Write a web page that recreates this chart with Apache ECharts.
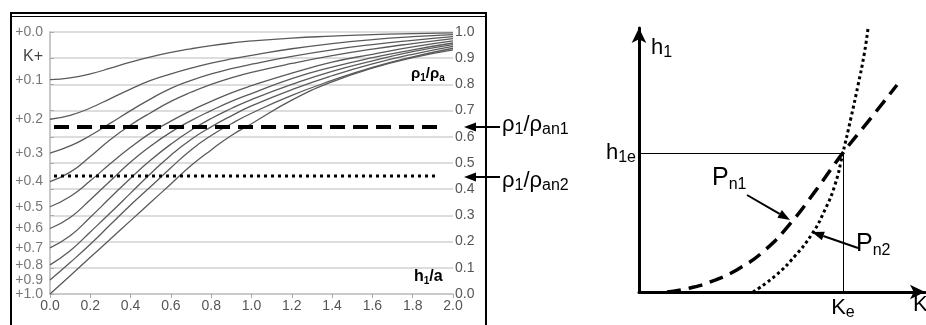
<!DOCTYPE html>
<html>
<head>
<meta charset="utf-8">
<script src="https://cdn.jsdelivr.net/npm/echarts@6/dist/echarts.min.js"></script>
<style>
html, body { margin: 0; padding: 0; background: #fff; }
#chart { width: 926px; height: 325px; }
</style>
</head>
<body>
<div id="chart"></div>
<script>
// h1/a sample points shared by all curves
var hValues = [0, 0.1, 0.2, 0.3, 0.4, 0.5, 0.6, 0.7, 0.8, 0.9, 1.0, 1.2, 1.4, 1.6, 1.8, 2.0];

// rho1/rhoa for each K curve
var curveK01 = [0.818, 0.825, 0.840, 0.862, 0.885, 0.905, 0.922, 0.936, 0.948, 0.958, 0.966, 0.977, 0.984, 0.990, 0.994, 0.997];
var curveK02 = [0.667, 0.682, 0.710, 0.746, 0.782, 0.815, 0.840, 0.862, 0.881, 0.897, 0.911, 0.936, 0.956, 0.971, 0.982, 0.990];
var curveK03 = [0.538, 0.565, 0.605, 0.652, 0.700, 0.745, 0.785, 0.815, 0.840, 0.860, 0.877, 0.907, 0.932, 0.952, 0.968, 0.982];
var curveK04 = [0.429, 0.465, 0.525, 0.590, 0.645, 0.692, 0.735, 0.770, 0.800, 0.825, 0.846, 0.880, 0.910, 0.935, 0.956, 0.975];
var curveK05 = [0.333, 0.372, 0.432, 0.498, 0.560, 0.615, 0.660, 0.700, 0.735, 0.768, 0.795, 0.843, 0.885, 0.915, 0.943, 0.966];
var curveK06 = [0.250, 0.292, 0.360, 0.432, 0.504, 0.565, 0.618, 0.662, 0.700, 0.735, 0.765, 0.822, 0.866, 0.902, 0.932, 0.958];
var curveK07 = [0.176, 0.222, 0.293, 0.368, 0.442, 0.511, 0.572, 0.625, 0.670, 0.708, 0.742, 0.800, 0.850, 0.890, 0.925, 0.952];
var curveK08 = [0.111, 0.165, 0.237, 0.310, 0.385, 0.460, 0.530, 0.590, 0.638, 0.680, 0.718, 0.780, 0.833, 0.878, 0.915, 0.945];
var curveK09 = [0.053, 0.120, 0.190, 0.265, 0.340, 0.410, 0.482, 0.550, 0.605, 0.650, 0.690, 0.758, 0.815, 0.865, 0.905, 0.938];
var curveK10 = [0.000, 0.070, 0.140, 0.210, 0.280, 0.350, 0.420, 0.490, 0.550, 0.605, 0.650, 0.740, 0.810, 0.862, 0.902, 0.932];
var curves = [curveK01, curveK02, curveK03, curveK04, curveK05, curveK06, curveK07, curveK08, curveK09, curveK10];

// left K+ scale: label text and its place on the rho1/rhoa axis
var kTickLabels = ['+0.0', 'K+', '+0.1', '+0.2', '+0.3', '+0.4', '+0.5', '+0.6', '+0.7', '+0.8', '+0.9', '+1.0'];
var kTickPos = [1.0, 0.905, 0.818, 0.667, 0.538, 0.429, 0.333, 0.25, 0.176, 0.111, 0.053, 0.0];

// horizontal reference levels
var rhoAn1 = 0.637;
var rhoAn2 = 0.45;
var refStart = 0.02;
var refEnd = 1.93;

// right sketch (arbitrary units 0..100)
var pn1X = [9.8, 17.8, 26.6, 35.3, 44.1, 52.8, 61.9, 71.3, 80.8, 90.2];
var pn1Y = [0.0, 1.5, 4.5, 9.1, 15.9, 25.8, 38.6, 52.7, 65.5, 78.4];
var pn2X = [39.9, 47.6, 54.5, 60.5, 65.0, 68.5, 71.3, 74.1, 76.6, 78.7, 80.1];
var pn2Y = [0.0, 6.1, 13.6, 22.0, 31.1, 40.5, 52.7, 65.9, 78.4, 89.8, 100.0];
var keValue = 71.3;
var h1eValue = 52.7;

var font = 'Liberation Sans, Arial, sans-serif';
var big = {fontSize: 22, fontFamily: font, color: '#000', lineHeight: 26};
var sub = {fontSize: 16, fontFamily: font, color: '#000', verticalAlign: 'bottom', lineHeight: 14};
var richSet = {m: big, s: sub, p: {fontSize: 25, fontFamily: font, color: '#000', lineHeight: 30}};

function zip(xs, ys) {
    return xs.map(function (x, i) { return [x, ys[i]]; });
}

function arrow(x1, y1, x2, y2) {
    var ang = Math.atan2(y2 - y1, x2 - x1);
    var len = 12, half = 4.5;
    var bx = x2 - len * Math.cos(ang), by = y2 - len * Math.sin(ang);
    var px = -Math.sin(ang) * half, py = Math.cos(ang) * half;
    return {
        type: 'group',
        children: [{
            type: 'line',
            shape: {x1: x1, y1: y1, x2: bx, y2: by},
            style: {stroke: '#000', lineWidth: 2}
        }, {
            type: 'polygon',
            shape: {points: [[x2, y2], [bx + px, by + py], [bx - px, by - py]]},
            style: {fill: '#000'}
        }]
    };
}

var series = [];
for (var i = 0; i < curves.length; i++) {
    series.push({
        type: 'line',
        xAxisIndex: 0,
        yAxisIndex: 0,
        data: zip(hValues, curves[i]),
        smooth: 0.5,
        showSymbol: false,
        silent: true,
        lineStyle: {color: '#5a5a5a', width: 1.3}
    });
}
series.push({
    type: 'line', xAxisIndex: 0, yAxisIndex: 0,
    data: [[refStart, rhoAn1], [refEnd, rhoAn1]],
    showSymbol: false, silent: true,
    lineStyle: {color: '#000', width: 4, type: [15, 8]}
});
series.push({
    type: 'line', xAxisIndex: 0, yAxisIndex: 0,
    data: [[refStart, rhoAn2], [refEnd, rhoAn2]],
    showSymbol: false, silent: true,
    lineStyle: {color: '#000', width: 3, type: [3, 4]}
});
// K+ labels on the left side
series.push({
    type: 'scatter', xAxisIndex: 0, yAxisIndex: 0,
    symbolSize: 0, silent: true,
    data: kTickLabels.map(function (t, i) {
        var item = {name: t, value: [0, kTickPos[i]]};
        if (t === 'K+') {
            item.label = {fontSize: 16, color: '#111'};
        }
        return item;
    }),
    label: {
        show: true, position: 'left', distance: 7,
        formatter: function (p) { return p.name; },
        fontFamily: font, fontSize: 14, color: '#555'
    }
});
// sketch curves
series.push({
    type: 'line', xAxisIndex: 1, yAxisIndex: 2,
    data: zip(pn1X, pn1Y), smooth: 0.5,
    showSymbol: false, silent: true, clip: false,
    lineStyle: {color: '#000', width: 3.5, type: [14, 8]},
    markLine: {
        silent: true, symbol: 'none', animation: false,
        lineStyle: {color: '#000', width: 1, type: 'solid'},
        data: [
            [{coord: [0, h1eValue], label: {show: true, position: 'start', distance: 3,
                formatter: '{m|h}{s|1e}', rich: richSet}},
             {coord: [keValue, h1eValue]}],
            [{coord: [keValue, h1eValue], label: {show: true, position: 'end', distance: 3,
                formatter: '{m|K}{s|e}', rich: richSet}},
             {coord: [keValue, 0]}]
        ]
    }
});
series.push({
    type: 'line', xAxisIndex: 1, yAxisIndex: 2,
    data: zip(pn2X, pn2Y), smooth: 0.5,
    showSymbol: false, silent: true, clip: false,
    lineStyle: {color: '#000', width: 3, type: [3, 3]}
});

var chart = echarts.init(document.getElementById('chart'));
chart.setOption({
    animation: false,
    backgroundColor: '#fff',
    grid: [
        {left: 50, right: 473, top: 32, bottom: 31},
        {left: 639, right: 1, top: 28, bottom: 33}
    ],
    xAxis: [{
        gridIndex: 0, type: 'value', min: 0, max: 2, interval: 0.2,
        axisLine: {lineStyle: {color: '#c4c4c4', width: 1.5}},
        axisTick: {show: true, length: 4, lineStyle: {color: '#aaa'}},
        axisLabel: {formatter: function (v) { return v.toFixed(1); },
            color: '#555', fontSize: 14, fontFamily: font, margin: 5},
        splitLine: {show: false}
    }, {
        gridIndex: 1, type: 'value', min: 0, max: 100,
        axisLine: {show: true, symbol: ['none', 'arrow'], symbolSize: [11, 15],
            lineStyle: {color: '#000', width: 3}},
        axisTick: {show: false}, axisLabel: {show: false}, splitLine: {show: false}
    }],
    yAxis: [{
        gridIndex: 0, type: 'value', position: 'right', min: 0, max: 1, interval: 0.1,
        axisLine: {show: true, lineStyle: {color: '#c4c4c4', width: 1.5}},
        axisTick: {show: true, length: 4, lineStyle: {color: '#aaa'}},
        axisLabel: {formatter: function (v) { return v.toFixed(1); },
            color: '#555', fontSize: 14, fontFamily: font, margin: 2},
        splitLine: {show: true, lineStyle: {color: '#d2d2d2', width: 1.5}}
    }, {
        gridIndex: 0, type: 'value', position: 'left', min: 0, max: 1,
        axisLine: {show: true, lineStyle: {color: '#c4c4c4', width: 1.5}},
        axisTick: {show: false}, axisLabel: {show: false}, splitLine: {show: false}
    }, {
        gridIndex: 1, type: 'value', min: 0, max: 100,
        axisLine: {show: true, symbol: ['none', 'arrow'], symbolSize: [11, 15],
            lineStyle: {color: '#000', width: 3}},
        axisTick: {show: false}, axisLabel: {show: false}, splitLine: {show: false}
    }],
    graphic: [
        // frame of the left panel
        {type: 'rect', shape: {x: 11, y: 13, width: 475, height: 330},
            style: {fill: 'none', stroke: '#000', lineWidth: 2}},
        {type: 'line', shape: {x1: 11, y1: 16.5, x2: 486, y2: 16.5},
            style: {stroke: '#000', lineWidth: 1}},
        {type: 'text', x: 411, y: 65, style: {
            text: '{b|ρ}{c|1}{b|/ρ}{c|a}',
            rich: {b: {fontSize: 15, fontWeight: 'bold', fontFamily: font, color: '#333', lineHeight: 18},
                   c: {fontSize: 10, fontWeight: 'bold', fontFamily: font, color: '#333', verticalAlign: 'bottom', lineHeight: 9}}}},
        {type: 'text', x: 414, y: 268, style: {
            text: '{b|h}{c|1}{b|/a}',
            rich: {b: {fontSize: 16, fontWeight: 'bold', fontFamily: font, color: '#333', lineHeight: 18},
                   c: {fontSize: 10, fontWeight: 'bold', fontFamily: font, color: '#333', verticalAlign: 'bottom', lineHeight: 9}}}},
        // annotations for the reference levels
        arrow(500, 127, 464, 127),
        {type: 'text', x: 502, y: 112, style: {text: '{m|ρ}{s|1}{m|/ρ}{s|an1}', rich: richSet}},
        arrow(500, 177, 464, 177),
        {type: 'text', x: 502, y: 168, style: {text: '{m|ρ}{s|1}{m|/ρ}{s|an2}', rich: richSet}},
        // sketch labels
        {type: 'text', x: 651, y: 35, style: {text: '{m|h}{s|1}', rich: richSet}},
        {type: 'text', x: 913, y: 292, style: {text: '{m|K}', rich: richSet}},
        {type: 'text', x: 712, y: 163, style: {text: '{p|P}{s|n1}', rich: richSet}},
        arrow(747, 195, 790, 220),
        {type: 'text', x: 856, y: 229, style: {text: '{p|P}{s|n2}', rich: richSet}},
        arrow(858, 248, 812, 232)
    ],
    series: series
});
</script>
</body>
</html>
